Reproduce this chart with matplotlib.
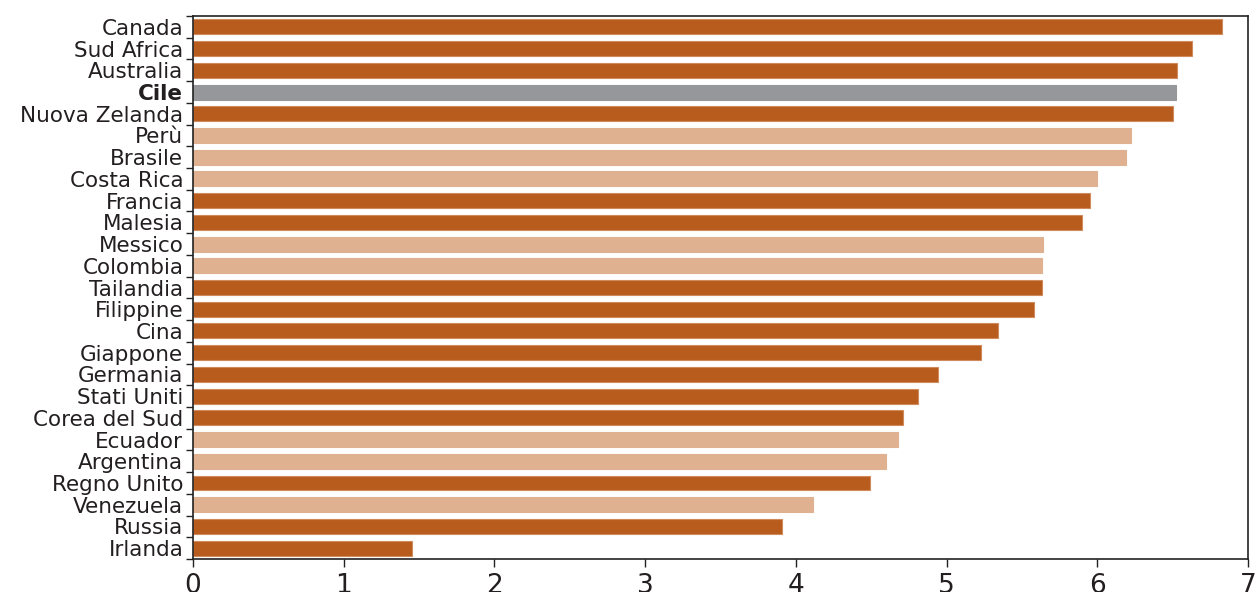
import matplotlib.pyplot as plt
import numpy as np

countries = ["Canada", "Sud Africa", "Australia", "Cile", "Nuova Zelanda", "Perù",
             "Brasile", "Costa Rica", "Francia", "Malesia", "Messico", "Colombia",
             "Tailandia", "Filippine", "Cina", "Giappone", "Germania", "Stati Uniti",
             "Corea del Sud", "Ecuador", "Argentina", "Regno Unito", "Venezuela",
             "Russia", "Irlanda"]
values = [6.83, 6.63, 6.53, 6.52, 6.50, 6.22, 6.19, 6.00, 5.95, 5.90, 5.64, 5.63,
          5.63, 5.58, 5.34, 5.23, 4.94, 4.81, 4.71, 4.68, 4.60, 4.49, 4.11, 3.91, 1.45]
latam = ["Perù", "Brasile", "Costa Rica", "Messico", "Colombia", "Ecuador",
         "Argentina", "Venezuela"]
highlight = "Cile"

dark, light, grey = "#b85c1e", "#e0b190", "#96979a"
colors = [grey if c == highlight else light if c in latam else dark for c in countries]
edges = [grey if c == highlight else light if c in latam else "#d08a5c" for c in countries]

plt.rcParams["font.family"] = ["DejaVu Sans"]

fig = plt.figure(figsize=(12.56, 5.92), dpi=100)
ax = fig.add_axes([0.1537, 0.0557, 0.8400, 0.9173])

y = np.arange(len(countries))
ax.barh(y, values, height=0.69, color=colors, edgecolor=edges, linewidth=0.8)

ax.set_xlim(0, 7)
ax.set_ylim(len(countries) - 0.5, -0.5)
ax.set_xticks(range(8))
ax.tick_params(axis="x", labelsize=19, length=6, width=1, color="#222222",
               labelcolor="#231f20", pad=4)

ax.set_yticks(y)
ax.set_yticklabels(countries, fontsize=15.5, color="#231f20")
ax.tick_params(axis="y", which="major", length=0, pad=7)
ax.set_yticks(np.arange(-0.5, len(countries), 1), minor=True)
ax.tick_params(axis="y", which="minor", length=5, width=1, color="#222222")
for lab in ax.get_yticklabels():
    if lab.get_text() == highlight:
        lab.set_fontweight("bold")

for s in ax.spines.values():
    s.set_color("#222222")
    s.set_linewidth(1.2)

fig.savefig("out.png", dpi=100)
